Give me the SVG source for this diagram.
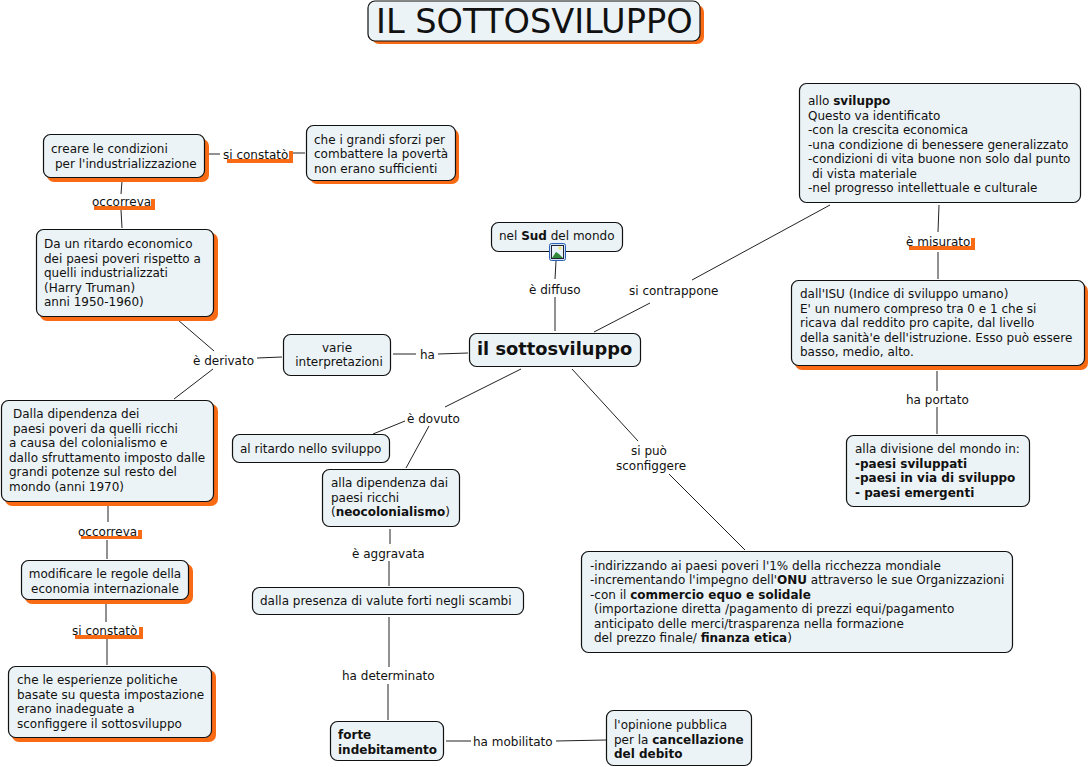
<svg xmlns="http://www.w3.org/2000/svg" width="1090" height="767" viewBox="0 0 1090 767">
<style>
text{font-family:"DejaVu Sans","Liberation Sans",sans-serif;font-size:12px;fill:#111;transform:translateY(.8px)}
.b{font-weight:bold}
.n{fill:#ecf3f6;stroke:#111;stroke-width:1.2}
.s{fill:#f96a14}
.c line{stroke:#222;stroke-width:1}
.m{text-anchor:middle}
</style>
<rect width="1090" height="767" fill="#fff"/>
<g class="c">
<line x1="208" y1="154" x2="220" y2="154"/><line x1="293" y1="153" x2="305" y2="153"/>
<line x1="122" y1="181" x2="121" y2="194"/><line x1="121" y1="210" x2="122" y2="228"/>
<line x1="178" y1="320" x2="214" y2="351"/><line x1="213" y1="369" x2="174" y2="399"/>
<line x1="257" y1="358" x2="282" y2="357"/><line x1="393" y1="354" x2="416" y2="354"/><line x1="438" y1="354" x2="468" y2="353"/>
<line x1="556" y1="261" x2="555" y2="279"/><line x1="555" y1="297" x2="555" y2="331"/>
<line x1="594" y1="332" x2="650" y2="303"/><line x1="692" y1="280" x2="830" y2="205"/>
<line x1="939" y1="205" x2="938" y2="232"/><line x1="938" y1="252" x2="938" y2="279"/>
<line x1="937" y1="371" x2="937" y2="391"/><line x1="937" y1="407" x2="937" y2="434"/>
<line x1="521" y1="369" x2="445" y2="407"/><line x1="405" y1="421" x2="373" y2="434"/><line x1="429" y1="426" x2="406" y2="468"/>
<line x1="572" y1="369" x2="638" y2="441"/><line x1="669" y1="474" x2="745" y2="550"/>
<line x1="390" y1="529" x2="390" y2="544"/><line x1="389" y1="561" x2="389" y2="586"/>
<line x1="389" y1="617" x2="389" y2="667"/><line x1="388" y1="684" x2="388" y2="720"/>
<line x1="446" y1="741" x2="471" y2="741"/><line x1="556" y1="741" x2="606" y2="740"/>
<line x1="108" y1="504" x2="108" y2="522"/><line x1="107" y1="540" x2="107" y2="559"/>
<line x1="106" y1="604" x2="106" y2="622"/><line x1="107" y1="639" x2="107" y2="665"/>
</g>
<g id="lbl-shadows" class="s">
<rect x="227" y="159" width="66" height="4"/><rect x="289" y="151" width="4" height="12"/>
<rect x="94" y="206" width="61" height="4"/><rect x="151" y="199" width="4" height="11"/>
<rect x="909" y="246" width="66" height="4"/><rect x="971" y="238" width="4" height="12"/>
<rect x="81" y="536" width="61" height="3"/><rect x="138" y="530" width="4" height="9"/>
<rect x="75" y="635" width="68" height="4"/><rect x="139" y="627" width="4" height="12"/>
</g>
<g id="title"><rect class="s" x="372" y="5" width="332" height="39" rx="7"/><rect class="n" x="368" y="1" width="332" height="40" rx="7"/><text x="376" y="33" style="font-size:33.600px;transform:none">IL SOTTOSVILUPPO</text></g>
<g id="n1"><rect class="s" x="47" y="139" width="162" height="43" rx="7"/><rect class="n" x="43.500" y="134.500" width="161" height="43" rx="7"/><text x="51" y="152">creare le condizioni</text><text x="55" y="167">per l'industrializzazione</text></g>
<g id="n2"><rect class="s" x="310" y="129" width="149" height="55" rx="7"/><rect class="n" x="306.500" y="125.500" width="149" height="55" rx="7"/><text x="314" y="143">che i grandi sforzi per</text><text x="314" y="157">combattere la povertà</text><text x="314" y="172">non erano sufficienti</text></g>
<g id="n3"><rect class="s" x="40" y="233" width="178" height="88" rx="7"/><rect class="n" x="36.500" y="229.500" width="177" height="87" rx="7"/><text x="44" y="247">Da un ritardo economico</text><text x="44" y="262">dei paesi poveri rispetto a</text><text x="44" y="276">quelli industrializzati</text><text x="44" y="291">(Harry Truman)</text><text x="44" y="305">anni 1950-1960)</text></g>
<g id="n4"><rect class="n" x="283.500" y="334.500" width="107" height="41" rx="7"/><text x="337" y="351" class="m">varie</text><text x="339" y="365" class="m">interpretazioni</text></g>
<g id="n5"><rect class="n" x="491.500" y="222.500" width="131" height="29" rx="7"/><text x="499" y="239">nel <tspan class="b">Sud</tspan> del mondo</text></g>
<g id="icon"><rect x="549.500" y="243.500" width="16" height="17" rx="2" fill="#cfe2f7" stroke="#2a62b8"/><rect x="551.500" y="245.500" width="12" height="13" fill="#e8f2fb" stroke="#223"/><path d="M552 258l4-6 3 2 4 4z" fill="#2f8a3a"/><circle cx="560" cy="248" r="1.500" fill="#f2e36a"/></g>
<g id="n6"><rect class="n" x="469.500" y="333.500" width="171" height="33" rx="7"/><text x="477" y="354" class="b" style="font-size:17.800px">il sottosviluppo</text></g>
<g id="n7"><rect class="n" x="799.500" y="83.500" width="281" height="119" rx="7"/><text x="808" y="104">allo <tspan class="b">sviluppo</tspan></text><text x="808" y="119">Questo va identificato</text><text x="808" y="133">-con la crescita economica</text><text x="808" y="148">-una condizione di benessere generalizzato</text><text x="808" y="162">-condizioni di vita buone non solo dal punto</text><text x="812" y="177">di vista materiale</text><text x="808" y="191">-nel progresso intellettuale e culturale</text></g>
<g id="n8"><rect class="s" x="795" y="284" width="293" height="86" rx="7"/><rect class="n" x="791.500" y="280.500" width="293" height="85" rx="7"/><text x="800" y="297">dall'ISU (Indice di sviluppo umano)</text><text x="800" y="312">E' un numero compreso tra 0 e 1 che si</text><text x="800" y="326">ricava dal reddito pro capite, dal livello</text><text x="800" y="341">della sanità'e dell'istruzione. Esso può essere</text><text x="800" y="355">basso, medio, alto.</text></g>
<g id="n9"><rect class="n" x="846.500" y="435.500" width="183" height="71" rx="7"/><text x="855" y="452">alla divisione del mondo in:</text><text x="855" y="467" class="b">-paesi sviluppati</text><text x="855" y="481" class="b">-paesi in via di sviluppo</text><text x="855" y="496" class="b">- paesi emergenti</text></g>
<g id="n10"><rect class="s" x="5" y="404" width="213" height="102" rx="7"/><rect class="n" x="1.500" y="400.500" width="212" height="101" rx="7"/><text x="13" y="417">Dalla dipendenza dei</text><text x="13" y="432">paesi poveri da quelli ricchi</text><text x="9" y="446">a causa del colonialismo e</text><text x="9" y="461">dallo sfruttamento imposto dalle</text><text x="9" y="475">grandi potenze sul resto del</text><text x="9" y="490">mondo (anni 1970)</text></g>
<g id="n11"><rect class="n" x="232.500" y="434.500" width="157" height="28" rx="7"/><text x="240" y="452">al ritardo nello sviluppo</text></g>
<g id="n12"><rect class="n" x="322.500" y="469.500" width="137" height="57" rx="7"/><text x="331" y="486">alla dipendenza dai</text><text x="331" y="501">paesi ricchi</text><text x="331" y="515">(<tspan class="b">neocolonialismo</tspan>)</text></g>
<g id="n13"><rect class="n" x="252.500" y="587.500" width="271" height="27" rx="7"/><text x="260" y="604">dalla presenza di valute forti negli scambi</text></g>
<g id="n14"><rect class="n" x="581.500" y="551.500" width="431" height="101" rx="7"/><text x="590" y="569">-indirizzando ai paesi poveri l'1% della ricchezza mondiale</text><text x="590" y="583">-incrementando l'impegno dell'<tspan class="b">ONU</tspan> attraverso le sue Organizzazioni</text><text x="590" y="598">-con il <tspan class="b">commercio equo e solidale</tspan></text><text x="594" y="612">(importazione diretta /pagamento di prezzi equi/pagamento</text><text x="594" y="627">anticipato delle merci/trasparenza nella formazione</text><text x="594" y="641">del prezzo finale/ <tspan class="b">finanza etica</tspan>)</text></g>
<g id="n15"><rect class="s" x="25" y="564" width="168" height="40" rx="7"/><rect class="n" x="21.500" y="560.500" width="167" height="39" rx="7"/><text x="105" y="577" class="m">modificare le regole della</text><text x="105" y="592" class="m">economia internazionale</text></g>
<g id="n16"><rect class="s" x="12" y="670" width="204" height="72" rx="7"/><rect class="n" x="8.500" y="666.500" width="203" height="71" rx="7"/><text x="17" y="683">che le esperienze politiche</text><text x="17" y="698">basate su questa impostazione</text><text x="17" y="712">erano inadeguate a</text><text x="17" y="727">sconfiggere il sottosviluppo</text></g>
<g id="n17"><rect class="n" x="330.500" y="721.500" width="113" height="39" rx="7"/><text x="338" y="738" class="b">forte</text><text x="338" y="753" class="b">indebitamento</text></g>
<g id="n18"><rect class="n" x="606.500" y="710.500" width="145" height="55" rx="7"/><text x="614" y="728">l'opinione pubblica</text><text x="614" y="743">per la <tspan class="b">cancellazione</tspan></text><text x="614" y="757" class="b">del debito</text></g>
<g id="labels">
<text x="223" y="158">si constatò</text><text x="92" y="205">occorreva</text><text x="193" y="364">è derivato</text><text x="420" y="358">ha</text>
<text x="529" y="293">è diffuso</text><text x="629" y="294">si contrappone</text><text x="906" y="245">è misurato</text><text x="906" y="403">ha portato</text>
<text x="407" y="422">è dovuto</text><text x="631" y="454">si può</text><text x="616" y="469">sconfiggere</text>
<text x="352" y="557">è aggravata</text><text x="342" y="679">ha determinato</text><text x="473" y="745">ha mobilitato</text>
<text x="78" y="535">occorreva</text><text x="72" y="634">si constatò</text>
</g>
</svg>
